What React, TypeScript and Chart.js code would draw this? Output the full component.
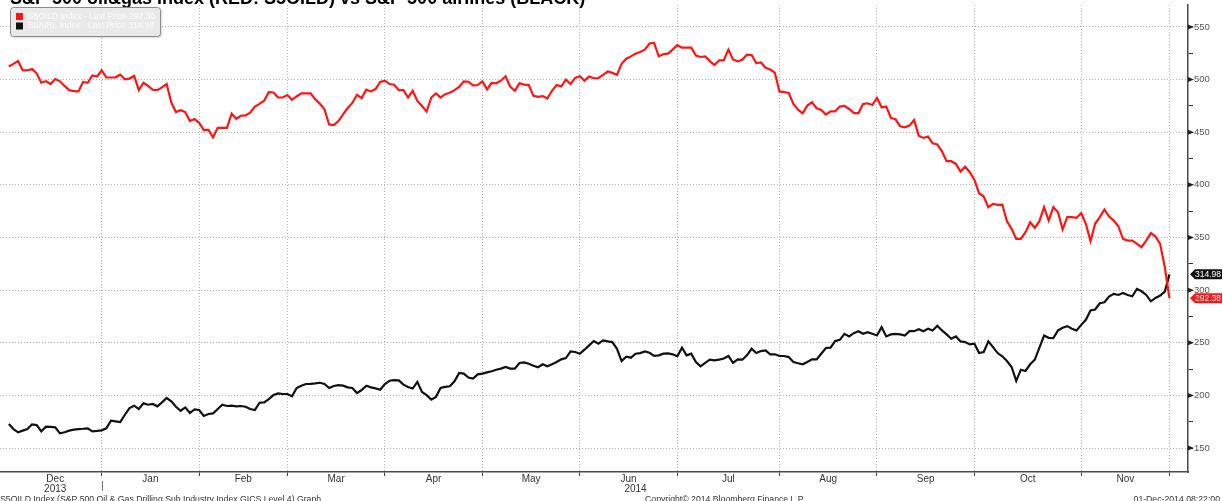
import React, { useEffect, useRef } from 'react';
import { Chart, registerables } from 'chart.js';

Chart.register(...registerables);

const TITLE = 'S&P 500 oil&gas index (RED: S5OILD) vs S&P 500 airlines (BLACK)';
const LEGEND_LABELS = ['S5OILD Index - Last Price 292.38', 'S5AIRL Index - Last Price 314.98'];
const FOOTER_LEFT = 'S5OILD Index (S&P 500 Oil & Gas Drilling Sub Industry Index GICS Level 4) Graph';
const FOOTER_MID = 'Copyright\u00A9 2014 Bloomberg Finance L.P.';
const FOOTER_RIGHT = '01-Dec-2014 08:22:00';

// trading-day index of the first session of each month (Dec-2013 .. Dec-2014)
const MONTH_STARTS = [0, 20, 41, 60, 81, 102, 123, 144, 166, 187, 208, 231, 250];
const MONTH_LABELS = ['Dec', 'Jan', 'Feb', 'Mar', 'Apr', 'May', 'Jun', 'Jul', 'Aug', 'Sep', 'Oct', 'Nov'];
const YEAR_LABELS = ['2013', '2014'];
const YEAR_SPANS = [[0, 20], [20, 250]];

const Y_MAJOR = [150, 200, 250, 300, 350, 400, 450, 500, 550];
const Y_MINOR = [175, 225, 275, 325, 375, 425, 475, 525];
const Y_MIN = 127.2;
const Y_MAX = 570.9;
const X_MIN = -1.9;
const X_MAX = 254;

const LAST_VALUES = [292.38, 314.98];

// S5OILD (red) daily closes
const oilGas = [
  512.5, 515, 517.6, 508.7, 508.7, 510, 506, 497, 498.4, 495.8,
  500.6, 498.4, 494, 490, 489, 488.8, 497.8, 497, 504, 503,
  508.7, 502.2, 502, 502.2, 504.8, 500.3, 501, 503.5, 490, 497,
  494, 490.4, 490, 492.6, 495.8, 478.2, 469.2, 471, 469.2, 460.6,
  462.5, 459, 452, 452.3, 445.2, 454.2, 454.2, 454.2, 467.6, 462.8,
  465.7, 466, 468.6, 474.4, 477, 480, 488, 487.8, 483, 483,
  485.3, 480.8, 484, 486.9, 487, 486.9, 481.4, 477, 471.8, 457.4,
  456.7, 460.6, 467, 473, 477.9, 485.6, 482.4, 490.4, 488.8, 491,
  497.8, 499, 495.8, 495.2, 490, 490, 483, 489.4, 479.8, 475,
  469.6, 483, 486.9, 483, 486.2, 487.5, 490, 493, 498.4, 498,
  494.6, 494.9, 498.4, 490.7, 496.8, 496.5, 499, 503.2, 493.3, 489.4,
  496.5, 495.2, 494.9, 484.6, 483.7, 484.3, 482, 489.4, 494.9, 493.6,
  500, 495.8, 501.6, 503.2, 499, 502.9, 501.3, 501.3, 504.5, 507.7,
  506.4, 504.5, 515.1, 519.9, 522.1, 524.7, 526.3, 528.5, 534.3, 534.9,
  522.1, 524.1, 524.7, 528.5, 532.7, 530.4, 530.4, 530.4, 522.8, 521.5,
  522.1, 517.6, 513.8, 518.3, 518.3, 528.5, 519.2, 517.3, 518.9, 523.7,
  523.4, 515.7, 516.4, 511.2, 509.6, 506.7, 488.8, 488.1, 487.3, 476.9,
  471.5, 468, 475.3, 478.5, 472.8, 471.2, 466.8, 469.9, 469.9, 474.4,
  475, 472.1, 468.4, 468, 476.9, 477.5, 475.9, 482.6, 473.7, 474.4,
  463.6, 462.3, 455.7, 454.7, 456.3, 461.7, 446.8, 444.6, 445.9, 439.5,
  438.3, 431.9, 422.5, 422.5, 419.9, 412.6, 417.4, 412, 404.7, 392.1,
  388.9, 378.8, 382, 381, 381.3, 365.5, 358.2, 348.7, 348.7, 355,
  364.5, 359.2, 365.5, 378.8, 366.1, 378.8, 374, 357.6, 369.3, 369.3,
  368.7, 373.1, 363, 346.5, 363, 369.3, 376.6, 369.9, 366.1, 360.7,
  348.7, 347.1, 347.1, 344, 340.8, 347.1, 354.1, 350.9, 344, 322,
  292.38,
];

// S5AIRL (black) daily closes
const airlines = [
  172.8, 168, 164.9, 166.5, 168, 172.5, 171.8, 165.8, 170.2, 170,
  169.6, 163.9, 165, 166.5, 167.4, 168, 168.3, 168.7, 165.8, 166.2,
  166.8, 168.7, 175.9, 175.3, 174.7, 181.6, 188, 190.2, 187, 192.4,
  191.1, 191.8, 189.6, 193.4, 197.5, 194.3, 189.2, 185.4, 188.6, 183.2,
  186.7, 186.1, 180.4, 182.3, 182.9, 187, 191.1, 189.9, 190.2, 189.6,
  189.9, 189.2, 187, 186.1, 193, 193.4, 196.5, 200.3, 201.9, 201.3,
  201.3, 199.1, 207, 209.2, 210.8, 211, 211.4, 212, 210.8, 207,
  208.9, 209.8, 209.2, 207.6, 207, 202.2, 205.1, 209.2, 207.6, 206.6,
  205.4, 210.8, 213.9, 214.5, 214.3, 210.2, 208, 206.5, 212.8, 203.3,
  200.2, 196, 198.6, 207.1, 208, 208.7, 213.4, 221.3, 220.7, 216.9,
  215.9, 220, 220.7, 221.9, 222.9, 224.4, 225.4, 227, 225.4, 225.4,
  230.8, 231.4, 230.1, 228.2, 226.7, 229.5, 227.6, 229.5, 231.7, 234.2,
  235.5, 241.8, 241.2, 239.6, 243.4, 247.5, 251.6, 249.1, 252.2, 251.3,
  250.6, 244.3, 232.6, 236.7, 235.8, 239.6, 240.2, 241.8, 240.5, 237.5,
  238, 239.6, 239.9, 239, 237.1, 245.3, 238, 239.6, 231.7, 227.6,
  230.8, 233.9, 233.3, 234, 235, 237.4, 230.8, 234.2, 233.9, 238,
  244.3, 240.2, 242.1, 242.7, 239, 239, 237.4, 237.4, 236.4, 231.7,
  230.5, 229.5, 231.7, 234.2, 234.2, 239.6, 245, 245.3, 251.6, 252.8,
  258.5, 256, 259.1, 261, 258.5, 260.1, 258.5, 256.9, 264.8, 256,
  257.9, 258.5, 257.9, 256.9, 261, 261, 262.9, 261, 263.3, 261.7,
  266.1, 261.7, 257.9, 253.8, 256, 251.3, 250.6, 248.4, 249.1, 240.2,
  241.2, 251.3, 245.9, 240.2, 237.1, 232.6, 227, 213.7, 224.4, 223.2,
  229.5, 233.9, 245.3, 256.9, 254.7, 254.4, 261.7, 264.2, 265.8, 263.3,
  261.7, 267, 271.8, 280.6, 281.6, 287.5, 288.5, 293.9, 296.4, 295.4,
  297.3, 295.4, 294.2, 301.1, 298.9, 295.4, 289.4, 292.6, 294.8, 298.5,
  314.98,
];

const RED = '#ff1414';
const BLACK = '#111111';
const FONT = '"Liberation Sans", Arial, sans-serif';

const decorPlugin = {
  id: 'decor',
  afterDraw(chart: any) {
    const { ctx, chartArea, scales } = chart;
    const xs = scales.x;
    const ys = scales.y;
    ctx.save();

    // title (partly cut by the top edge)
    ctx.font = `bold 18px ${FONT}`;
    ctx.fillStyle = '#000';
    ctx.textAlign = 'left';
    ctx.textBaseline = 'alphabetic';
    ctx.fillText(TITLE, 10, 4);

    // legend box
    ctx.shadowColor = 'rgba(0,0,0,0.25)';
    ctx.shadowOffsetX = 1;
    ctx.shadowOffsetY = 1;
    ctx.shadowBlur = 2;
    ctx.fillStyle = 'rgba(236,236,236,0.92)';
    ctx.beginPath();
    ctx.roundRect(10.5, 7.5, 150, 29, 3);
    ctx.fill();
    ctx.shadowColor = 'transparent';
    ctx.strokeStyle = '#8c8c8c';
    ctx.lineWidth = 1;
    ctx.stroke();
    const swatch = [RED, BLACK];
    LEGEND_LABELS.forEach((t, i) => {
      const yy = 13 + i * 9.5;
      ctx.fillStyle = swatch[i];
      ctx.fillRect(16, yy, 7, 7);
      ctx.fillStyle = '#fafafa';
      ctx.font = `8.5px ${FONT}`;
      ctx.textBaseline = 'middle';
      ctx.fillText(t, 28, yy + 3.5);
    });

    // arrows on major y ticks
    ctx.fillStyle = '#222';
    Y_MAJOR.forEach((v) => {
      const py = ys.getPixelForValue(v);
      ctx.beginPath();
      ctx.moveTo(chartArea.right, py - 2.5);
      ctx.lineTo(chartArea.right + 6, py);
      ctx.lineTo(chartArea.right, py + 2.5);
      ctx.closePath();
      ctx.fill();
    });

    // month labels
    ctx.fillStyle = '#333';
    ctx.font = `10px ${FONT}`;
    ctx.textAlign = 'center';
    ctx.textBaseline = 'middle';
    MONTH_LABELS.forEach((m, i) => {
      const cx = xs.getPixelForValue((MONTH_STARTS[i] + MONTH_STARTS[i + 1]) / 2);
      ctx.fillText(m, cx, 479);
    });
    YEAR_LABELS.forEach((yl, i) => {
      const cx = xs.getPixelForValue((YEAR_SPANS[i][0] + YEAR_SPANS[i][1]) / 2);
      ctx.fillText(yl, cx, 489);
    });
    // year separator
    const sepX = Math.round(xs.getPixelForValue(YEAR_SPANS[1][0])) + 0.5;
    ctx.strokeStyle = '#777';
    ctx.lineWidth = 1;
    ctx.beginPath();
    ctx.moveTo(sepX, 481);
    ctx.lineTo(sepX, 491);
    ctx.stroke();

    // footer
    ctx.font = `8.7px ${FONT}`;
    ctx.fillStyle = '#333';
    ctx.textBaseline = 'alphabetic';
    ctx.textAlign = 'left';
    ctx.fillText(FOOTER_LEFT, 0, 501.5);
    ctx.textAlign = 'center';
    ctx.fillText(FOOTER_MID, 725, 501.5);
    ctx.textAlign = 'right';
    ctx.fillText(FOOTER_RIGHT, 1220, 501.5);

    // last value badges
    const colors = [RED, BLACK];
    [1, 0].forEach((i) => {
      const py = ys.getPixelForValue(LAST_VALUES[i]);
      const x0 = chartArea.right + 2;
      const h = 10;
      ctx.fillStyle = colors[i];
      ctx.beginPath();
      ctx.moveTo(x0, py);
      ctx.lineTo(x0 + 5, py - h / 2);
      ctx.lineTo(x0 + 32, py - h / 2);
      ctx.lineTo(x0 + 32, py + h / 2);
      ctx.lineTo(x0 + 5, py + h / 2);
      ctx.closePath();
      ctx.fill();
      ctx.fillStyle = '#fff';
      ctx.font = `8.5px ${FONT}`;
      ctx.textAlign = 'left';
      ctx.textBaseline = 'middle';
      ctx.fillText(LAST_VALUES[i].toFixed(2), x0 + 5, py + 0.5);
    });

    ctx.restore();
  },
};

export default function App() {
  const ref = useRef<HTMLCanvasElement | null>(null);

  useEffect(() => {
    document.body.style.margin = '0';
    const canvas = ref.current;
    if (!canvas) return;
    const toPts = (arr: number[]) => arr.map((v, i) => ({ x: i, y: v }));
    const chart = new Chart(canvas, {
      type: 'line',
      data: {
        datasets: [
          {
            label: 'S5OILD',
            data: toPts(oilGas),
            borderColor: RED,
            borderWidth: 2.2,
            pointRadius: 0,
            tension: 0,
          },
          {
            label: 'S5AIRL',
            data: toPts(airlines),
            borderColor: BLACK,
            borderWidth: 2.2,
            pointRadius: 0,
            tension: 0,
          },
        ],
      },
      options: {
        animation: false,
        responsive: false,
        devicePixelRatio: 1,
        layout: { padding: { top: 5, bottom: 29, left: 0, right: 0 } },
        plugins: {
          legend: { display: false },
          title: { display: false },
          tooltip: { enabled: false },
        },
        scales: {
          x: {
            type: 'linear',
            min: X_MIN,
            max: X_MAX,
            afterBuildTicks: (s: any) => {
              s.ticks = MONTH_STARTS.slice(1).map((v) => ({ value: v }));
            },
            afterFit: (s: any) => {
              s.height = 0;
              s.paddingLeft = 0;
              s.paddingRight = 0;
            },
            ticks: { display: false },
            grid: {
              color: '#b5b5b5',
              lineWidth: 1,
              drawTicks: true,
              tickLength: 4,
              tickColor: '#444',
              tickWidth: 1,
              tickBorderDash: [],
            },
            border: { display: true, color: '#4a4a4a', width: 1.5, dash: [1, 2] },
          },
          y: {
            type: 'linear',
            position: 'right',
            min: Y_MIN,
            max: Y_MAX,
            afterBuildTicks: (s: any) => {
              s.ticks = [...Y_MAJOR, ...Y_MINOR].sort((a, b) => a - b).map((v) => ({ value: v }));
            },
            afterFit: (s: any) => {
              s.width = 35;
              s.paddingTop = 0;
              s.paddingBottom = 0;
            },
            ticks: {
              padding: 1,
              color: '#555',
              font: { family: 'Liberation Sans', size: 9.5 },
              callback: (v: any) => (Y_MAJOR.includes(v) ? String(v) : ''),
            },
            grid: {
              color: (c: any) => (c.tick && Y_MAJOR.includes(c.tick.value) ? '#b5b5b5' : 'rgba(0,0,0,0)'),
              lineWidth: 1,
              drawTicks: true,
              tickLength: 5,
              tickColor: '#333',
              tickWidth: 1,
              tickBorderDash: [],
            },
            border: { display: true, color: '#4a4a4a', width: 1.5, dash: [1, 2] },
          },
        },
      },
      plugins: [decorPlugin],
    } as any);
    return () => chart.destroy();
  }, []);

  return (
    <div style={{ width: 1223, height: 501, position: 'relative', background: '#fff' }}>
      <canvas ref={ref} width={1223} height={501} style={{ display: 'block' }} />
    </div>
  );
}
